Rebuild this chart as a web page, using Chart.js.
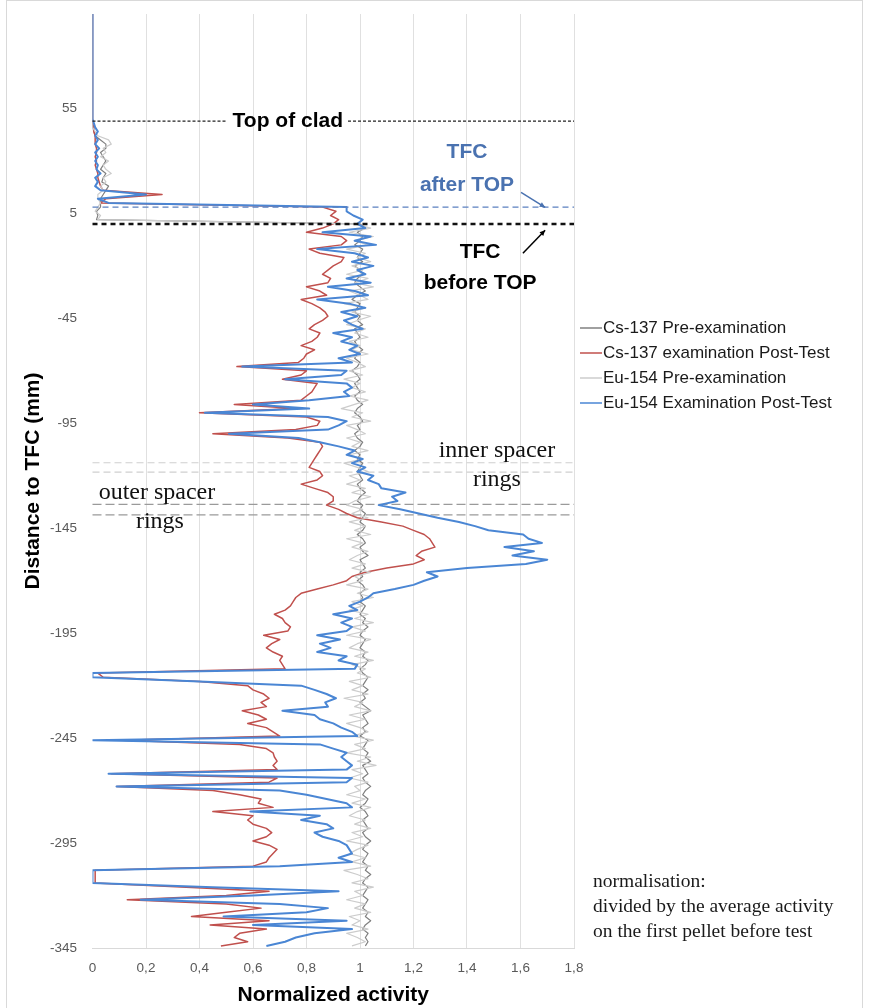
<!DOCTYPE html>
<html>
<head>
<meta charset="utf-8">
<script src="https://cdn.jsdelivr.net/npm/chart.js@4.4.1/dist/chart.umd.min.js"></script>
<style>
  html, body { margin: 0; padding: 0; background: #fff; }
  #wrap { width: 869px; height: 1008px; }
</style>
</head>
<body>
<div id="wrap"><canvas id="perfil" width="869" height="1008"></canvas></div>
<script>
// Posiciones de medida (mm respecto al TFC), cada 2 mm de 100 a -344
const depth = [];
for (let d = 100; d >= -344; d -= 2) depth.push(d);

const seriesNames = [
  'Cs-137 Pre-examination',
  'Cs-137 examination Post-Test',
  'Eu-154 Pre-examination',
  'Eu-154 Examination Post-Test'
];

const xTicks = [0, 0.2, 0.4, 0.6, 0.8, 1, 1.2, 1.4, 1.6, 1.8];
const yTicks = [55, 5, -45, -95, -145, -195, -245, -295, -345];

// Cs-137 antes del ensayo
const csPre = [
  0, 0, 0, 0, 0, 0, 0, 0, 0, 0,
  0, 0, 0, 0, 0, 0, 0, 0, 0, 0,
  0, 0, 0, 0, 0, 0,
  0.0, 0.0, 0.005, 0.01, 0.03, 0.05, 0.05, 0.03, 0.04, 0.05,
  0.04, 0.03, 0.05, 0.04, 0.035, 0.06, 0.05, 0.04, 0.03, 0.03,
  0.03, 0.015, 0.02, 0.015, 1.0,
  1.02, 0.99, 1.01, 1.00, 0.98, 1.01, 1.00, 0.99, 1.01, 0.98,
  1.00, 1.01, 0.99, 0.98, 1.00, 1.02, 0.99, 0.97, 1.00, 0.99,
  0.98, 1.00, 0.99, 1.01, 0.98, 0.99, 1.00, 0.98, 0.99, 1.01,
  0.99, 0.98, 1.00, 0.99, 0.97, 0.99, 1.00, 0.98, 0.99, 1.00,
  0.98, 0.99, 1.01, 0.99, 0.98, 1.00, 1.01, 0.99, 1.00, 0.98,
  0.99, 1.01, 1.00, 0.98, 1.00, 0.99, 1.01, 1.00, 0.99, 1.00,
  1.01, 0.99, 1.00, 1.02, 1.00, 0.99, 1.01, 1.00, 1.02, 1.01,
  1.00, 1.02, 1.01, 0.99, 1.01, 1.02, 1.00, 1.01, 1.03, 1.00,
  1.01, 1.02, 1.00, 1.01, 0.99, 1.01, 1.02, 1.00, 1.01, 1.00,
  1.02, 1.01, 1.00, 1.02, 1.01, 1.03, 1.01, 1.00, 1.02, 1.01,
  1.00, 1.02, 1.01, 1.03, 1.02, 1.00, 1.01, 1.03, 1.02, 1.01,
  1.03, 1.01, 1.02, 1.00, 1.02, 1.04, 1.01, 1.02, 1.03, 1.01,
  1.02, 1.00, 1.03, 1.02, 1.01, 1.03, 1.02, 1.04, 1.01, 1.02,
  1.03, 1.01, 1.02, 1.04, 1.02, 1.01, 1.03, 1.02, 1.00, 1.02,
  1.03, 1.01, 1.02, 1.03, 1.01, 1.02, 1.04, 1.02, 1.01, 1.03,
  1.02, 1.01, 1.03, 1.02, 1.04, 1.02, 1.01, 1.03, 1.02, 1.01,
  1.03, 1.02, 1.01, 1.03, 1.02, 1.04, 1.02, 1.01, 1.03, 1.02,
  1.03, 1.02
];

// Cs-137 después del ensayo
const csPost = [
  0, 0, 0, 0, 0, 0, 0, 0, 0, 0,
  0, 0, 0, 0, 0, 0, 0, 0, 0, 0,
  0, 0, 0, 0, 0, 0,
  0, 0.005, 0.005, 0.01, 0.01, 0.01, 0.015, 0.015, 0.01, 0.015,
  0.01, 0.015, 0.02, 0.02, 0.025, 0.03, 0.04, 0.26, 0.05, 0.03,
  0.86, 0.91, 0.89, 0.92, 0.90, 0.86, 0.80, 0.93, 0.95, 0.93,
  0.81, 0.85, 0.94, 0.93, 0.90, 0.88, 0.86, 0.89, 0.88, 0.80,
  0.85, 0.875, 0.78, 0.82, 0.85, 0.87, 0.88, 0.86, 0.83, 0.81,
  0.85, 0.84, 0.82, 0.78, 0.83, 0.80, 0.79, 0.77, 0.54, 0.80,
  0.78, 0.71, 0.84, 0.83, 0.82, 0.80, 0.78, 0.53, 0.76, 0.40,
  0.80, 0.85, 0.84, 0.76, 0.45, 0.73, 0.85, 0.86, 0.85, 0.84,
  0.83, 0.82, 0.81, 0.85, 0.86, 0.84, 0.78, 0.83, 0.88, 0.90,
  0.90, 0.875, 0.92, 0.95, 0.99, 1.08, 1.16, 1.20, 1.24, 1.26,
  1.27, 1.28, 1.23, 1.21, 1.24, 1.20, 1.10, 1.02, 0.97, 0.95,
  0.90, 0.84, 0.78, 0.76, 0.75, 0.74, 0.72, 0.68, 0.71, 0.72,
  0.74, 0.73, 0.64, 0.70, 0.67, 0.65, 0.675, 0.71, 0.70, 0.71,
  0.72, 0.02, 0.04, 0.40, 0.58, 0.60, 0.64, 0.66, 0.63, 0.65,
  0.56, 0.62, 0.65, 0.58, 0.65, 0.675, 0.70, 0.11, 0.55, 0.65,
  0.675, 0.68, 0.69, 0.675, 0.69, 0.07, 0.69, 0.66, 0.09, 0.45,
  0.55, 0.63, 0.62, 0.675, 0.45, 0.60, 0.58, 0.60, 0.65, 0.67,
  0.65, 0.60, 0.66, 0.69, 0.675, 0.66, 0.65, 0.60, 0.01, 0.01,
  0.01, 0.01, 0.35, 0.66, 0.50, 0.13, 0.50, 0.63, 0.50, 0.37,
  0.66, 0.44, 0.65, 0.55, 0.53, 0.58, 0.48
];

// Eu-154 antes del ensayo
const euPre = [
  0, 0, 0, 0, 0, 0, 0, 0, 0, 0,
  0, 0, 0, 0, 0, 0, 0, 0, 0, 0,
  0, 0, 0, 0, 0, 0,
  0.0, 0.0, 0.01, 0.02, 0.06, 0.07, 0.04, 0.05, 0.03, 0.06,
  0.04, 0.05, 0.07, 0.04, 0.05, 0.03, 0.04, 0.02, 0.02, 0.03,
  0.02, 0.01, 0.03, 0.02, 0.98,
  1.04, 0.96, 1.05, 0.98, 1.03, 0.95, 1.02, 0.99, 1.04, 0.97,
  1.01, 0.95, 1.03, 0.98, 1.05, 0.96, 1.00, 1.03, 0.94, 1.02,
  0.97, 1.04, 0.99, 0.95, 1.02, 0.98, 1.03, 0.96, 1.00, 0.97,
  1.03, 0.95, 0.99, 1.02, 0.96, 1.01, 0.94, 1.00, 0.97, 1.02,
  0.96, 1.03, 0.98, 0.93, 1.01, 0.97, 1.04, 0.95, 0.99, 1.02,
  0.95, 1.00, 0.97, 1.03, 0.96, 1.01, 0.94, 0.99, 1.03, 0.96,
  1.00, 0.95, 1.02, 0.97, 1.04, 0.98, 0.95, 1.01, 0.97, 1.03,
  0.96, 1.02, 0.98, 1.04, 0.95, 1.01, 0.97, 1.03, 0.99, 0.96,
  1.02, 0.97, 1.04, 0.98, 1.01, 0.95, 1.03, 0.99, 1.05, 0.97,
  1.01, 0.96, 1.03, 0.98, 1.05, 0.97, 1.02, 0.95, 1.04, 0.99,
  0.96, 1.03, 0.98, 1.05, 0.97, 1.02, 0.99, 1.04, 0.96, 1.01,
  0.97, 1.03, 0.94, 1.01, 0.98, 1.04, 0.96, 1.02, 0.95, 1.00,
  1.03, 0.97, 1.05, 0.98, 1.02, 0.95, 1.04, 0.99, 1.06, 0.97,
  1.01, 0.96, 1.03, 0.98, 1.00, 0.95, 1.02, 0.97, 1.04, 0.99,
  0.96, 1.02, 0.98, 1.04, 0.97, 1.01, 0.95, 1.03, 0.99, 0.96,
  1.02, 0.97, 1.04, 0.94, 0.99, 1.03, 0.97, 1.05, 0.98, 1.01,
  0.95, 1.02, 0.98, 1.04, 0.96, 1.00, 0.97, 1.03, 0.95, 0.99,
  1.02, 0.97
];

// Eu-154 después del ensayo
const euPost = [
  0, 0, 0, 0, 0, 0, 0, 0, 0, 0,
  0, 0, 0, 0, 0, 0, 0, 0, 0, 0,
  0, 0, 0, 0, 0, 0,
  0.005, 0.01, 0.02, 0.01, 0.02, 0.01, 0.025, 0.01, 0.02, 0.01,
  0.02, 0.015, 0.03, 0.01, 0.02, 0.01, 0.03, 0.20, 0.02, 0.06,
  0.95, 0.95, 0.975, 1.01, 0.99, 1.02, 0.86, 1.04, 0.98, 1.06,
  0.84, 0.98, 1.03, 0.97, 1.05, 0.99, 1.02, 0.95, 1.04, 0.88,
  0.98, 1.03, 0.84, 0.96, 1.02, 0.93, 0.99, 0.94, 0.97, 1.01,
  0.90, 0.97, 0.93, 0.99, 0.96, 1.00, 0.92, 0.97, 0.56, 0.95,
  0.93, 0.72, 0.95, 0.97, 0.94, 0.96, 0.81, 0.60, 0.81, 0.42,
  0.88, 0.95, 0.92, 0.88, 0.51, 0.77, 0.85, 0.92, 0.98, 0.95,
  1.01, 0.97, 1.02, 0.99, 1.05, 1.03, 1.07, 1.08, 1.17, 1.12,
  1.14, 1.07, 1.15, 1.22, 1.29, 1.37, 1.43, 1.48, 1.61, 1.63,
  1.68, 1.54, 1.65, 1.57, 1.70, 1.62, 1.40, 1.25, 1.29, 1.24,
  1.20, 1.13, 1.05, 1.03, 1.00, 0.96, 0.99, 0.90, 0.97, 0.93,
  0.97, 0.95, 0.84, 0.925, 0.85, 0.89, 0.84, 0.95, 0.92, 0.99,
  0.98, 0.0, 0.0, 0.40, 0.78, 0.83, 0.875, 0.91, 0.87, 0.88,
  0.71, 0.83, 0.85, 0.90, 0.93, 0.97, 0.99, 0.0, 0.85, 0.90,
  0.95, 0.93, 0.95, 0.97, 0.95, 0.06, 0.97, 0.95, 0.09, 0.70,
  0.80, 0.875, 0.95, 0.97, 0.59, 0.85, 0.78, 0.875, 0.90, 0.83,
  0.86, 0.92, 0.95, 0.96, 0.97, 0.92, 0.97, 0.70, 0.0, 0.0,
  0.0, 0.0, 0.45, 0.92, 0.60, 0.18, 0.70, 0.88, 0.80, 0.49,
  0.95, 0.60, 0.97, 0.83, 0.76, 0.72, 0.65
];

// Referencias horizontales (mm)
const topOfClad = 49;
const tfcAfter = 8;
const tfcBefore = 0;
const innerRings = [-113.8, -118.3];
const outerRings = [-133.6, -138.6];

const colores = ['#808080', '#c0504d', '#cccccc', '#4a86d4'];
const anchos = [1.2, 1.5, 1.2, 2];

function puntos(vals) {
  return depth.map((d, i) => ({ x: vals[i], y: d }));
}

function linea(ctx, x0, x1, y, color, width, dash) {
  ctx.save();
  ctx.strokeStyle = color;
  ctx.lineWidth = width;
  ctx.setLineDash(dash);
  ctx.beginPath();
  ctx.moveTo(x0, y);
  ctx.lineTo(x1, y);
  ctx.stroke();
  ctx.restore();
}

function flecha(ctx, x0, y0, x1, y1, color) {
  ctx.save();
  ctx.strokeStyle = color;
  ctx.fillStyle = color;
  ctx.lineWidth = 1.5;
  ctx.beginPath();
  ctx.moveTo(x0, y0);
  ctx.lineTo(x1, y1);
  ctx.stroke();
  const a = Math.atan2(y1 - y0, x1 - x0), L = 6;
  ctx.beginPath();
  ctx.moveTo(x1, y1);
  ctx.lineTo(x1 - L * Math.cos(a - 0.45), y1 - L * Math.sin(a - 0.45));
  ctx.lineTo(x1 - L * Math.cos(a + 0.45), y1 - L * Math.sin(a + 0.45));
  ctx.closePath();
  ctx.fill();
  ctx.restore();
}

function texto(ctx, str, x, y, font, color, align) {
  ctx.save();
  ctx.font = font;
  ctx.fillStyle = color;
  ctx.textAlign = align || 'center';
  ctx.textBaseline = 'middle';
  ctx.fillText(str, x, y);
  ctx.restore();
}

const anotaciones = {
  id: 'anotaciones',
  beforeDraw(chart) {
    const { ctx, width, height } = chart;
    ctx.save();
    ctx.fillStyle = '#fff';
    ctx.fillRect(0, 0, width, height);
    ctx.strokeStyle = '#d9d9d9';
    ctx.lineWidth = 1;
    ctx.strokeRect(6.5, 0.5, 856, height + 10);
    ctx.restore();
  },
  beforeDatasetsDraw(chart) {
    const { ctx, chartArea: a, scales: { y } } = chart;
    innerRings.forEach(d => linea(ctx, a.left, a.right, y.getPixelForValue(d), '#d0d0d0', 1.2, [7, 4]));
    outerRings.forEach(d => linea(ctx, a.left, a.right, y.getPixelForValue(d), '#9a9a9a', 1.2, [9, 4]));
  },
  afterDatasetsDraw(chart) {
    const { ctx, chartArea: a, scales: { x, y } } = chart;
    const X = v => x.getPixelForValue(v);
    const Y = d => y.getPixelForValue(d);

    // TFC antes y después
    linea(ctx, a.left, a.right, Y(tfcAfter), '#5b80c0', 1.3, [6, 4]);
    linea(ctx, a.left, a.right, Y(tfcBefore), '#111', 2.5, [5, 4]);

    // Top of clad
    ctx.save();
    ctx.font = 'bold 21px "Liberation Sans", Arial, sans-serif';
    const w = ctx.measureText('Top of clad').width;
    ctx.restore();
    const cx = X(0.73), cy = Y(topOfClad);
    linea(ctx, a.left, cx - w / 2 - 6, cy, '#222', 1.3, [3, 2]);
    linea(ctx, cx + w / 2 + 5, a.right, cy, '#222', 1.3, [3, 2]);
    texto(ctx, 'Top of clad', cx, cy, 'bold 21px "Liberation Sans", Arial, sans-serif', '#000');

    const fb = 'bold 21px "Liberation Sans", Arial, sans-serif';
    texto(ctx, 'TFC', X(1.40), Y(34), fb, '#4a72b0');
    texto(ctx, 'after TOP', X(1.40), Y(18.3), fb, '#4a72b0');
    flecha(ctx, X(1.602), Y(15), X(1.692), Y(7.9), '#4a72b0');
    texto(ctx, 'TFC', X(1.449), Y(-13.6), fb, '#000');
    texto(ctx, 'before TOP', X(1.449), Y(-28.3), fb, '#000');
    flecha(ctx, X(1.609), Y(-14), X(1.692), Y(-3), '#000');

    // Anillos espaciadores
    const fs = '24px "Liberation Serif", "Times New Roman", serif';
    texto(ctx, 'inner spacer', X(1.512), Y(-107.9), fs, '#111');
    texto(ctx, 'rings', X(1.512), Y(-122.1), fs, '#111');
    texto(ctx, 'outer spacer', X(0.241), Y(-128.3), fs, '#111');
    texto(ctx, 'rings', X(0.252), Y(-142.1), fs, '#111');

    // Leyenda
    const lx = a.right + 6;
    chart.data.datasets.forEach((ds, i) => {
      const ly = 328 + i * 25;
      linea(ctx, lx, lx + 22, ly, ds.borderColor, 1.5, []);
      texto(ctx, ds.label, lx + 23, ly, '17px "Liberation Sans", Arial, sans-serif', '#1a1a1a', 'left');
    });

    // Nota de normalización
    const fn = '19.5px "Liberation Serif", "Times New Roman", serif';
    texto(ctx, 'normalisation:', a.right + 19, 882, fn, '#1a1a1a', 'left');
    texto(ctx, 'divided by the average activity', a.right + 19, 907, fn, '#1a1a1a', 'left');
    texto(ctx, 'on the first pellet before test', a.right + 19, 932, fn, '#1a1a1a', 'left');
  }
};

const ctx = document.getElementById('perfil').getContext('2d');
new Chart(ctx, {
  type: 'scatter',
  data: {
    datasets: [csPre, csPost, euPre, euPost].map((vals, i) => ({
      label: seriesNames[i],
      data: puntos(vals),
      showLine: true,
      borderColor: colores[i],
      backgroundColor: colores[i],
      borderWidth: anchos[i],
      pointRadius: 0,
      borderJoinStyle: 'round',
      order: 3 - i
    }))
  },
  options: {
    responsive: false,
    animation: false,
    layout: { padding: { top: 14, right: 295, left: 0, bottom: 0 } },
    scales: {
      x: {
        type: 'linear',
        min: 0,
        max: 1.8,
        afterBuildTicks: (s) => { s.ticks = xTicks.map(v => ({ value: v })); },
        afterFit: (s) => { s.height = 60; s.paddingLeft = 0; s.paddingRight = 0; },
        ticks: {
          padding: 12,
          color: '#595959',
          font: { family: '"Liberation Sans", Arial, sans-serif', size: 13.5 },
          callback: (v) => String(Math.round(v * 10) / 10).replace('.', ',')
        },
        grid: {
          drawTicks: false,
          color: (c) => c.tick && c.tick.value === 0 ? 'rgba(0,0,0,0)' : '#e0e0e0'
        },
        border: { display: true, color: '#d9d9d9' },
        title: {
          display: true,
          text: 'Normalized activity',
          color: '#000',
          font: { family: '"Liberation Sans", Arial, sans-serif', size: 21, weight: 'bold' },
          padding: { top: 0, bottom: 0 }
        }
      },
      y: {
        type: 'linear',
        min: -345,
        max: 100,
        afterBuildTicks: (s) => { s.ticks = yTicks.map(v => ({ value: v })); },
        afterFit: (s) => { s.width = 92.5; s.paddingTop = 0; s.paddingBottom = 0; },
        ticks: {
          padding: 15.5,
          color: '#595959',
          font: { family: '"Liberation Sans", Arial, sans-serif', size: 13.5 }
        },
        grid: { display: false, drawTicks: false },
        border: { display: false },
        title: {
          display: true,
          text: 'Distance to TFC (mm)',
          color: '#000',
          font: { family: '"Liberation Sans", Arial, sans-serif', size: 21, weight: 'bold' },
          padding: { top: 21, bottom: 0 }
        }
      }
    },
    plugins: {
      legend: { display: false },
      tooltip: { enabled: false }
    }
  },
  plugins: [anotaciones]
});
</script>
</body>
</html>
